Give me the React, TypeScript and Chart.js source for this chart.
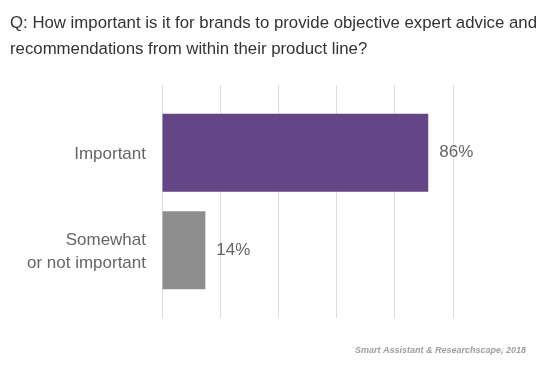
import React, { useEffect, useRef } from "react";
import { Chart, registerables } from "chart.js";

Chart.register(...registerables);

const titleLines = [
  "Q: How important is it for brands to provide objective expert advice and",
  "recommendations from within their product line?",
];
const categories: (string | string[])[] = ["Important", ["Somewhat", "or not important"]];
const values = [86, 14];
const valueLabels = ["86%", "14%"];
const barColors = ["#644687", "#8e8e8e"];
const sourceText = "Smart Assistant & Researchscape, 2018";
const axisMax = 94;
const axisStep = 18.8;

const FONT = "'Liberation Sans', Arial, Helvetica, sans-serif";

export default function App() {
  const ref = useRef<HTMLCanvasElement | null>(null);

  useEffect(() => {
    if (!ref.current) return;
    const textPlugin = {
      id: "textPlugin",
      afterDatasetsDraw(chart: any) {
        const ctx = chart.ctx;
        const meta = chart.getDatasetMeta(0);
        ctx.save();
        ctx.font = `17px ${FONT}`;
        ctx.fillStyle = "#666666";
        ctx.textAlign = "left";
        ctx.textBaseline = "middle";
        meta.data.forEach((el: any, i: number) => {
          ctx.fillText(valueLabels[i], el.x + 11, el.y);
        });
        ctx.restore();
      },
      afterDraw(chart: any) {
        const ctx = chart.ctx;
        ctx.save();
        ctx.font = `16.8px ${FONT}`;
        ctx.fillStyle = "#333333";
        ctx.textAlign = "left";
        ctx.textBaseline = "alphabetic";
        titleLines.forEach((t, i) => ctx.fillText(t, 10, 28 + i * 25.5));
        ctx.font = `italic bold 9px ${FONT}`;
        ctx.fillStyle = "#9e9e9e";
        ctx.textAlign = "right";
        ctx.textBaseline = "middle";
        ctx.fillText(sourceText, 526, 351);
        ctx.restore();
      },
    };

    const chart = new Chart(ref.current, {
      type: "bar",
      data: {
        labels: categories as any,
        datasets: [
          {
            data: values,
            backgroundColor: barColors,
            borderWidth: 0,
            barPercentage: 1,
            categoryPercentage: 0.8,
          },
        ],
      },
      options: {
        indexAxis: "y",
        animation: false,
        responsive: false,
        layout: { padding: { top: 85, bottom: 53, left: 0, right: 99 } },
        plugins: {
          legend: { display: false },
          tooltip: { enabled: false },
          title: { display: false },
        },
        scales: {
          x: {
            type: "linear",
            position: "bottom",
            min: 0,
            max: axisMax,
            ticks: { display: false, stepSize: axisStep },
            grid: { color: "#dcdcdc", drawTicks: true, tickLength: 19, lineWidth: 1 },
            border: { display: false },
          },
          x2: {
            type: "linear",
            position: "top",
            min: 0,
            max: axisMax,
            ticks: { display: false, stepSize: axisStep },
            grid: { color: "#dcdcdc", drawOnChartArea: false, drawTicks: true, tickLength: 19, lineWidth: 1 },
            border: { display: false },
          },
          y: {
            type: "category",
            position: "left",
            grid: { display: false },
            border: { display: false },
            ticks: {
              color: "#666666",
              font: { family: FONT, size: 17, lineHeight: 1.35 },
              padding: 8,
              labelOffset: 2,
            },
            afterFit(scale: any) {
              scale.width = 162;
            },
          },
        },
      } as any,
      plugins: [textPlugin],
    });
    return () => chart.destroy();
  }, []);

  return (
    <div style={{ position: "absolute", left: 0, top: 0, width: 552, height: 371, background: "#ffffff" }}>
      <canvas ref={ref} width={552} height={371} style={{ display: "block", width: 552, height: 371 }} />
    </div>
  );
}
